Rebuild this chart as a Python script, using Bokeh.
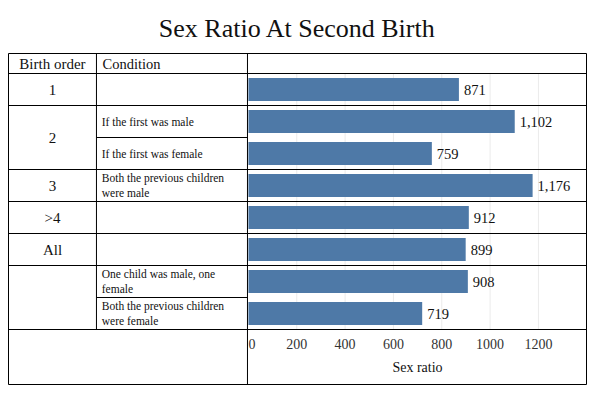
from bokeh.plotting import figure
from bokeh.models import Range1d, LinearAxis, FixedTicker, ColumnDataSource
from bokeh.core.properties import value
from bokeh.embed import file_html
from bokeh.resources import INLINE

# ---- data ----
chart_title = "Sex Ratio At Second Birth"
header_labels = ["Birth order", "Condition"]
order_labels = ["1", "2", "3", ">4", "All", ""]
order_first_row = [0, 1, 3, 4, 5, 6]
order_last_row = [0, 2, 3, 4, 5, 7]
conditions = ["", "If the first was male", "If the first was female",
              "Both the previous children\nwere male", "", "",
              "One child was male, one\nfemale",
              "Both the previous children\nwere female"]
sex_ratio = [871, 1102, 759, 1176, 912, 899, 908, 719]
ticks = [0, 200, 400, 600, 800, 1000, 1200]
axis_title = "Sex ratio"

FONT = "Liberation Serif"
BAR = "#4e79a7"

# ---- layout (table geometry in data units) ----
X0, X1 = -993, 1399          # frame extent
COL2 = -629                  # boundary birth order / condition
CHART = -4                   # boundary table / chart
TOP = 1.125                  # top of frame (header top)
HEAD = 0.5                   # header bottom
BODY_END = -7.5              # bottom of last row
BOTTOM = TOP - 331 / 32      # bottom of frame

p = figure(width=588, height=386, output_backend="svg", toolbar_location=None,
           x_range=Range1d(X0, X1), y_range=Range1d(BOTTOM, TOP),
           x_axis_location=None, y_axis_location=None,
           min_border_left=8, min_border_right=2, min_border_bottom=2, min_border_top=53,
           title=chart_title)
p.title.align = "center"
p.title.text_font = FONT
p.title.text_font_size = "26px"
p.title.text_font_style = "normal"
p.title.text_color = "#111111"
p.title.standoff = 22
p.xgrid.visible = False
p.ygrid.visible = False
p.outline_line_color = "black"
p.outline_line_width = 1

n = len(sex_ratio)
rows = [-i for i in range(n)]

# gridlines
p.segment(x0=ticks[1:], x1=ticks[1:], y0=[HEAD] * (len(ticks) - 1), y1=[BODY_END] * (len(ticks) - 1),
          line_color="#ebebeb", line_width=1)

# bars
src = ColumnDataSource(dict(y=rows, v=sex_ratio, lab=[f"{v:,}" for v in sex_ratio]))
p.hbar(y="y", right="v", left=0, height=0.72, source=src, fill_color=BAR, line_color=None)
p.text(x="v", y="y", text="lab", source=src, x_offset=5, text_baseline="middle",
       text_font=value(FONT), text_font_size="14.5px", text_color="#111111")

# table lines
full_lines_y = [HEAD, -0.5, -2.5, -3.5, -4.5, -5.5, BODY_END]
p.segment(x0=[X0] * len(full_lines_y), x1=[X1] * len(full_lines_y), y0=full_lines_y, y1=full_lines_y,
          line_color="black", line_width=1)
part_lines_y = [-1.5, -6.5]
p.segment(x0=[COL2] * 2, x1=[CHART] * 2, y0=part_lines_y, y1=part_lines_y, line_color="black", line_width=1)
p.segment(x0=[COL2, CHART], x1=[COL2, CHART], y0=[TOP, TOP], y1=[BODY_END, BOTTOM],
          line_color="black", line_width=1)

# header texts
hy = (TOP + HEAD) / 2
p.text(x=[(X0 + COL2) / 2], y=[hy], text=[header_labels[0]], text_align="center", text_baseline="middle",
       text_font=value(FONT), text_font_size="15px", text_color="#111111")
p.text(x=[COL2 + 25], y=[hy], text=[header_labels[1]], text_align="left", text_baseline="middle",
       text_font=value(FONT), text_font_size="14.5px", text_color="#111111")

# birth order texts
oy = [-(a + b) / 2 for a, b in zip(order_first_row, order_last_row)]
p.text(x=[(X0 + COL2) / 2] * len(order_labels), y=oy, text=order_labels, text_align="center",
       text_baseline="middle", text_font=value(FONT), text_font_size="15px", text_color="#111111")

# condition texts
p.text(x=[COL2 + 22] * n, y=rows, text=conditions, text_align="left", text_baseline="middle",
       text_font=value(FONT), text_font_size="11.5px", text_color="#111111", text_line_height=1.25)

# axis
xaxis = LinearAxis(fixed_location=BODY_END, ticker=FixedTicker(ticks=ticks), bounds=(0, X1),
                   axis_label=axis_title)
xaxis.axis_line_color = None
xaxis.major_tick_line_color = None
xaxis.minor_tick_line_color = None
xaxis.major_label_standoff = 1
xaxis.major_label_overrides = {0: "\u20020"}
xaxis.major_label_text_font = FONT
xaxis.major_label_text_font_size = "14px"
xaxis.major_label_text_color = "#333333"
xaxis.axis_label_text_font = FONT
xaxis.axis_label_text_font_size = "14px"
xaxis.axis_label_text_font_style = "normal"
xaxis.axis_label_text_color = "#111111"
p.add_layout(xaxis, "below")

open("out.html", "w").write(file_html(p, INLINE))
